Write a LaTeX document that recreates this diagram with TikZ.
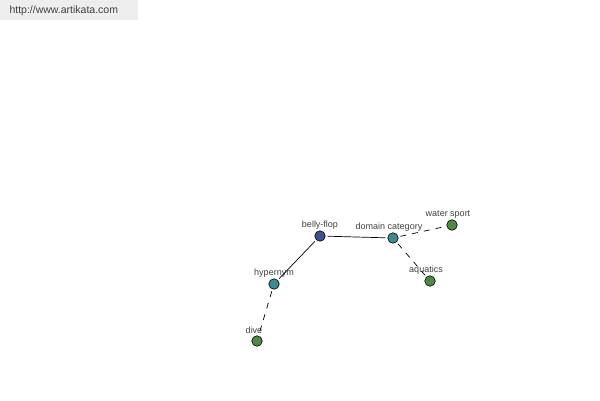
\documentclass[tikz,border=0pt]{standalone}
\usepackage{fontspec}
\setmainfont{Liberation Sans}
\usetikzlibrary{positioning}
\definecolor{rootblue}{HTML}{40508F}
\definecolor{midteal}{HTML}{3F8A8C}
\definecolor{leafgreen}{HTML}{4D8A48}
\definecolor{labelgray}{HTML}{404040}
\definecolor{bannergray}{HTML}{EEEEEE}

\begin{document}
\begin{tikzpicture}[
            x=1pt, y=-1pt,
            every node/.style={font=\fontsize{9}{11}\selectfont, text=labelgray},
            dot/.style={circle, draw=black, line width=0.6pt, inner sep=0pt, minimum size=10.5pt},
            rel/.style={draw=black, line width=0.7pt, shorten <=2pt, shorten >=2pt},
            link/.style={rel, dashed, dash pattern=on 6pt off 6pt},
        ]
            \useasboundingbox (0,0) rectangle (600,400);
            \fill[bannergray] (0,0) rectangle (138,20);
            \node[anchor=west, text=black!75, font=\fontsize{10.5}{12}\selectfont] (site) at (6,11) {http://www.artikata.com};

            % graph nodes
            \node[dot, fill=rootblue, label={[yshift=-2pt]90:belly-flop}] (flop) at (320,236) {};
            \node[dot, fill=midteal, label={[xshift=-4pt, yshift=-2pt]90:domain category}] (domain) at (393,238) {};
            \node[dot, fill=midteal, label={[yshift=-2pt]90:hypernym}] (hyper) at (274,284) {};
            \node[dot, fill=leafgreen, label={[xshift=-4pt, yshift=-2pt]90:water sport}] (water) at (452,225) {};
            \node[dot, fill=leafgreen, label={[xshift=-4pt, yshift=-2pt]90:aquatics}] (aqua) at (430,281) {};
            \node[dot, fill=leafgreen, label={[xshift=-3pt, yshift=-2pt]90:dive}] (dive) at (257,341) {};

            % edges
            \draw[rel] (flop) -- (domain);
            \draw[rel] (flop) -- (hyper);
            \draw[link] (hyper) -- (dive);
            \draw[link] (domain) -- (water);
            \draw[link] (domain) -- (aqua);
        \end{tikzpicture}
\end{document}
